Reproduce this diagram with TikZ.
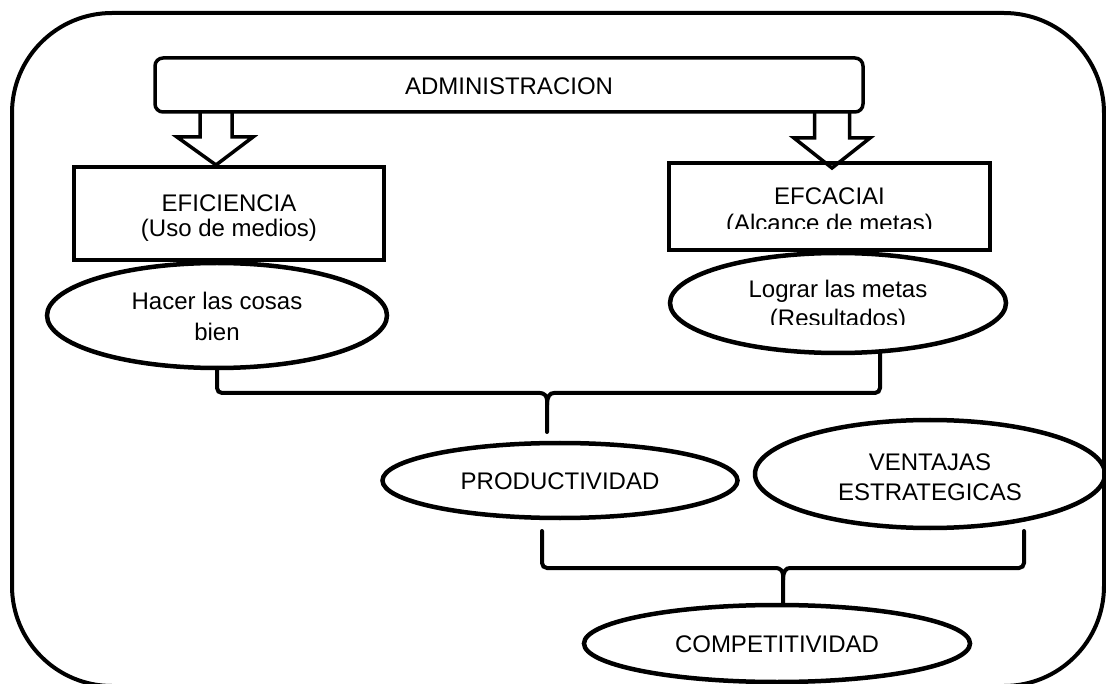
\documentclass[tikz,border=0pt]{standalone}
\usepackage{fontspec}
\setmainfont{Liberation Sans}
\usetikzlibrary{shapes.geometric,calc}
\begin{document}
\begin{tikzpicture}[x=1pt,y=-1pt,
  lbl/.style={font=\fontsize{24}{25}\selectfont, align=center, inner sep=0pt, outer sep=0pt},
  boxnode/.style={lbl, draw, line width=3.5pt, rectangle},
  ellnode/.style={lbl, draw, line width=4.5pt, ellipse},
  blockarr/.style={draw, line width=3.5pt, line join=miter},
  bracelines/.style={draw, line width=4pt, rounded corners=5pt, line cap=round},
  frame/.style={draw, line width=4pt, rounded corners=100pt}]

\useasboundingbox (0,0) rectangle (1106,684);
\clip (0,0) rectangle (1106,684);

% outer frame
\path[frame] (12,13) rectangle (1104,686);

% top box
\node[boxnode, rounded corners=8pt, minimum width=708pt, minimum height=54pt,
      text height=20pt, text depth=0pt] (admin) at (509,85) {ADMINISTRACION};

% second level boxes
\node[boxnode, minimum width=310pt, minimum height=93pt, text height=47pt, text depth=0pt,
      font=\fontsize{24}{25}\selectfont] (efi) at (229,213.5) {EFICIENCIA\\(Uso de medios)};

\begin{scope}
  \clip (0,0) rectangle (1106,229) (0,247.5) rectangle (1106,684)
        (0,0) rectangle (672,684) (987,0) rectangle (1106,684);
  \node[boxnode, minimum width=321pt, minimum height=87pt, text height=51pt, text depth=0pt,
        font=\fontsize{24}{27}\selectfont] (efc) at (829.5,206.5) {EFCACIAI\\(Alcance de metas)};
\end{scope}

% ellipses
\node[ellnode, minimum width=340pt, minimum height=105pt, text height=51pt, text depth=0pt,
      font=\fontsize{24}{31}\selectfont] (hac) at (217,315.5) {Hacer las cosas\\bien};

\begin{scope}
  \clip (0,0) rectangle (1106,325) (0,342) rectangle (1106,684)
        (0,0) rectangle (760,684) (915,0) rectangle (1106,684);
  \node[ellnode, minimum width=336pt, minimum height=100pt, text height=48pt, text depth=0pt,
        font=\fontsize{24}{29}\selectfont] (log) at (838,303) {Lograr las metas\\(Resultados)};
\end{scope}

\node[ellnode, minimum width=355pt, minimum height=75pt, text height=17pt, text depth=0pt]
  (prod) at (560,480.5) {PRODUCTIVIDAD};
\node[ellnode, minimum width=350pt, minimum height=108pt, text height=52pt, text depth=0pt,
      font=\fontsize{24}{30}\selectfont] (vent) at (930,474) {VENTAJAS\\ESTRATEGICAS};
\node[ellnode, minimum width=386pt, minimum height=77pt, text height=17pt, text depth=0pt]
  (comp) at (777,643.5) {COMPETITIVIDAD};

% block arrows
\coordinate (t1) at (216,165);
\coordinate (t2) at (832,168);
\draw[blockarr] ($(admin.south -| t1)+(-16,0)$) -- ++(0,25) -- ++(-23,0) -- (t1)
  -- ++(37,-28) -- ++(-21,0) -- ++(0,-25);
\draw[blockarr] ($(admin.south -| t2)+(-17.5,0)$) -- ++(0,26) -- ++(-20.5,0) -- (t2)
  -- ++(38,-30) -- ++(-20.5,0) -- ++(0,-26);

% brace 1
\coordinate (j1) at (547,393);
\coordinate (s1) at (547,432);
\coordinate (b1r) at (880,352);
\draw[bracelines] (hac.south) -- (hac.south |- j1) -- ($(j1)+(-12,0)$)
  .. controls ($(j1)+(-3,0)$) and ($(j1)+(0,3)$) .. ($(j1)+(0,12)$) -- (s1);
\draw[bracelines] (b1r) -- (b1r |- j1) -- ($(j1)+(12,0)$)
  .. controls ($(j1)+(3,0)$) and ($(j1)+(0,3)$) .. ($(j1)+(0,12)$);

% brace 2
\coordinate (j2) at (783,568);
\coordinate (s2) at (783,603);
\coordinate (b2l) at (542,531);
\coordinate (b2r) at (1024,531);
\draw[bracelines] (b2l) -- (b2l |- j2) -- ($(j2)+(-12,0)$)
  .. controls ($(j2)+(-3,0)$) and ($(j2)+(0,3)$) .. ($(j2)+(0,12)$) -- (s2);
\draw[bracelines] (b2r) -- (b2r |- j2) -- ($(j2)+(12,0)$)
  .. controls ($(j2)+(3,0)$) and ($(j2)+(0,3)$) .. ($(j2)+(0,12)$);
\end{tikzpicture}
\end{document}
